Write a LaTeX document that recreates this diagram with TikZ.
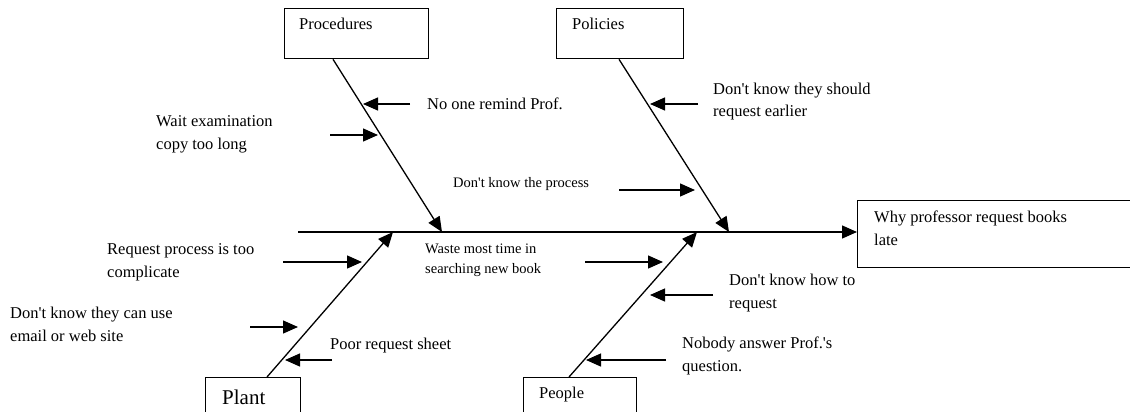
\documentclass[tikz,border=0pt]{standalone}
\usepackage{fontspec}
\setmainfont{Liberation Serif}[Ligatures=TeXOff]
\usetikzlibrary{arrows.meta}

\begin{document}
\begin{tikzpicture}[x=1pt,y=-1pt,
  box/.style={draw,line width=1.3pt,anchor=north west,inner sep=0pt},
  lbl/.style={anchor=base west,align=left,inner sep=0pt,font=\fontsize{16.5}{22.5}\selectfont},
  small/.style={lbl,font=\fontsize{14.5}{20}\selectfont},
  bone/.style={line width=1.3pt,-{Triangle[length=15pt,width=13pt]}}]
\useasboundingbox (0,0) rectangle (1130,412);
\node[box,minimum width=144pt,minimum height=50pt] (proc) at (284,8) {};
\node[box,minimum width=127pt,minimum height=50pt] (pol) at (556,8) {};
\node[box,minimum width=95pt,minimum height=40pt] (plant) at (205,377) {};
\node[box,minimum width=113pt,minimum height=40pt] (people) at (523,377) {};
\node[box,minimum width=290pt,minimum height=67pt] (effect) at (857,200) {};
\node[lbl] (tproc) at (299,30) {Procedures};
\node[lbl] (tpol) at (572,30) {Policies};
\node[lbl,font=\fontsize{21}{25}\selectfont] (tplant) at (222,404) {Plant};
\node[lbl] (tpeople) at (539,398) {People};
\node[lbl] (teffect) at (874,245) {Why professor request books\\late};
\node[lbl] (c1) at (427,109) {No one remind Prof.};
\node[lbl] (c2) at (156,149) {Wait examination\\copy too long};
\node[lbl] (c3) at (713,117) {Don't know they should\\request earlier};
\node[small] (c4) at (453,187) {Don't know the process};
\node[lbl] (c5) at (107,277) {Request process is too\\complicate};
\node[lbl] (c6) at (10,341) {Don't know they can use\\email or web site};
\node[lbl] (c7) at (330,349) {Poor request sheet};
\node[small] (c8) at (425,273) {Waste most time in\\searching new book};
\node[lbl] (c9) at (729,308) {Don't know how to\\request};
\node[lbl] (c10) at (682,371) {Nobody answer Prof.'s\\question.};
\coordinate (tail) at (298,232);
\coordinate (j1) at (442,232);
\coordinate (j2) at (729,232);
\coordinate (j3) at (393,232);
\coordinate (j4) at (697,232);
\draw[bone] (tail) -- (tail -| effect.west);
\draw[bone] ([xshift=49pt]proc.south west) -- (j1);
\draw[bone] ([xshift=63pt]pol.south west) -- (j2);
\draw[bone] ([xshift=62pt]plant.north west) -- (j3);
\draw[bone] ([xshift=46pt]people.north west) -- (j4);
\coordinate (s1) at (410,104); \coordinate (e1) at (363,104);
\coordinate (s2) at (330,135); \coordinate (e2) at (378,135);
\coordinate (s3) at (698,104); \coordinate (e3) at (650,104);
\coordinate (s4) at (619,190); \coordinate (e4) at (695,190);
\coordinate (s5) at (283,262); \coordinate (e5) at (362,262);
\coordinate (s6) at (250,327); \coordinate (e6) at (298,327);
\coordinate (s7) at (332,360); \coordinate (e7) at (285,360);
\coordinate (s8) at (585,262); \coordinate (e8) at (663,262);
\coordinate (s9) at (713,295); \coordinate (e9) at (650,295);
\coordinate (s10) at (666,360); \coordinate (e10) at (586,360);
\draw[bone] (s1) -- (e1);
\draw[bone] (s2) -- (e2);
\draw[bone] (s3) -- (e3);
\draw[bone] (s4) -- (e4);
\draw[bone] (s5) -- (e5);
\draw[bone] (s6) -- (e6);
\draw[bone] (s7) -- (e7);
\draw[bone] (s8) -- (e8);
\draw[bone] (s9) -- (e9);
\draw[bone] (s10) -- (e10);
\end{tikzpicture}
\end{document}
